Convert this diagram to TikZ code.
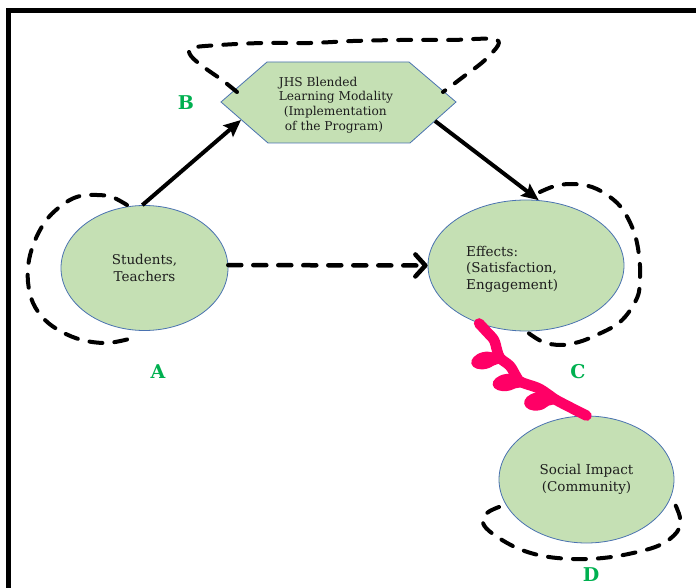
\documentclass[tikz,border=0pt]{standalone}
\usepackage{fontspec}
\setmainfont{DejaVu Serif}
\usetikzlibrary{shapes.geometric,arrows.meta}
\definecolor{nodefill}{HTML}{C5E0B4}
\definecolor{nodeline}{HTML}{4A72B0}
\definecolor{labgreen}{HTML}{00B050}
\definecolor{squigglepink}{HTML}{FF0066}
\definecolor{txt}{HTML}{1E1E1E}
\begin{document}
\begin{tikzpicture}[x=1pt,y=-1pt,
  oval/.style={ellipse, draw=nodeline, line width=0.8pt, fill=nodefill, inner sep=0pt,
    text=txt, font=\fontsize{13.5}{17}\selectfont, align=center},
  nodetext/.style={text=txt, font=\fontsize{13.5}{16.5}\selectfont, inner sep=0pt},
  lab/.style={text=labgreen, font=\fontsize{19}{20}\selectfont\bfseries, inner sep=0pt},
  freeloop/.style={line width=4pt, dash pattern=on 13pt off 12pt, line cap=round, line join=round},
  solidarrow/.style={line width=4pt, -{Stealth[length=17pt,width=15pt,inset=3pt]}},
  dasharrow/.style={line width=4.5pt, dash pattern=on 13pt off 12pt, line cap=round,
    -{Straight Barb[length=10pt,width=22pt,line width=4.5pt,round]}},
  squiggle/.style={squigglepink, line width=10.5pt, line cap=round, line join=round},
  blob/.style={fill=squigglepink}
  ]
\useasboundingbox (0,0) rectangle (696,588);
% frame
\draw[line width=5pt] (8.5,590) -- (8.5,10.5) -- (698,10.5);

% hexagon
\coordinate (hexW) at (221,102);
\coordinate (hexNW) at (267,62);
\coordinate (hexNE) at (409,62);
\coordinate (hexE) at (456,102);
\coordinate (hexSE) at (410,143);
\coordinate (hexSW) at (268,143);
\path[fill=nodefill, draw=nodeline, line width=0.8pt]
  (hexW) -- (hexNW) -- (hexNE) -- (hexE) -- (hexSE) -- (hexSW) -- cycle;
\node[nodetext, font=\fontsize{12.2}{14.7}\selectfont, align=left] (H) at (336,105)
  {JHS Blended\\Learning Modality\\\hspace*{5pt}(Implementation\\\hspace*{6pt}of the Program)};
\coordinate (hexBL) at (241,120);
\coordinate (hexBR) at (435,121);

% ellipses
\node[oval, minimum width=167pt, minimum height=125pt] (A) at (144.5,268) {Students,\\Teachers};
\node[oval, minimum width=196pt, minimum height=131pt] (C) at (526,265.5) {};
\node[nodetext, align=left, anchor=west] (Ctext) at (466,269) {Effects:\\(Satisfaction,\\Engagement)};
\node[oval, minimum width=175pt, minimum height=127pt] (D) at (586.5,479.5) {Social Impact\\(Community)};

% arrows
\draw[solidarrow] (A.92) -- (hexBL);
\draw[solidarrow] (hexBR) -- (C.79);
\draw[dasharrow] (A.2) -- (C.west);

% dashed freehand loops
\draw[freeloop] plot[smooth, tension=0.6] coordinates {
  (237,92) (222,80) (205,68) (191,56) (192,48) (220,45) (263,43) (310,43)
  (353,41) (400,40) (450,40) (497,40) (487,58) (463,77) (443,92)};
\draw[freeloop] plot[smooth, tension=0.6] coordinates {
  (127,205) (112,197) (97,195) (80,196) (65,203) (48,218) (36,238) (29,260)
  (28,282) (33,303) (45,320) (62,332) (82,340) (105,343) (125,340) (137,336)};
\draw[freeloop] plot[smooth, tension=0.6] coordinates {
  (540,192) (555,186) (572,184) (592,187) (610,197) (623,210) (634,232) (639,255)
  (640,277) (637,298) (620,322) (592,337) (575,343) (560,345) (543,342) (527,332)};
\draw[freeloop] plot[smooth, tension=0.6] coordinates {
  (499,507) (487,513) (483,523) (493,534) (517,548) (543,556) (573,559) (603,558)
  (633,553) (660,545) (677,532) (680,518) (674,502)};

% pink squiggle from C to D
\draw[squiggle] plot[smooth, tension=0.55] coordinates {
  (C.-129) (487,332) (494,340) (497,350) (500,358) (510,366) (516,376) (521,382)
  (538,388) (549,395) (558,401) (D.north)};
\fill[blob, rotate around={14:(484.5,360.5)}] (484.5,360.5) ellipse[x radius=13.5, y radius=8.5];
\fill[blob, rotate around={10:(506.5,382.5)}] (506.5,382.5) ellipse[x radius=14, y radius=8.5];
\fill[blob, rotate around={10:(537.5,401.5)}] (537.5,401.5) ellipse[x radius=13.5, y radius=9];
\draw[squiggle] (488,362) -- (499,358);
\draw[squiggle] (510,384) -- (521,382);
\draw[squiggle] (541,402) -- (554,399);

% labels
\node[lab] (labB) at (186,103) {B};
\node[lab] (labA) at (158,372) {A};
\node[lab] (labC) at (578,372) {C};
\node[lab] (labD) at (591,575) {D};
\end{tikzpicture}
\end{document}
